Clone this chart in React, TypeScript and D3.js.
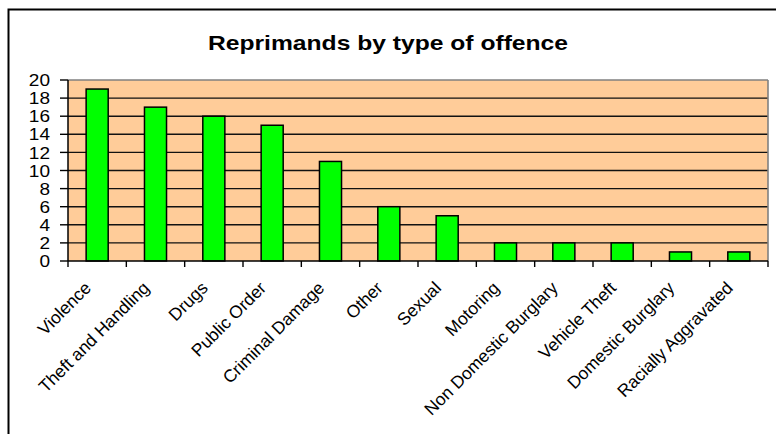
import React from "react";
import * as d3 from "d3";

const categories = [
  "Violence",
  "Theft and Handling",
  "Drugs",
  "Public Order",
  "Criminal Damage",
  "Other",
  "Sexual",
  "Motoring",
  "Non Domestic Burglary",
  "Vehicle Theft",
  "Domestic Burglary",
  "Racially Aggravated",
];
const values = [19, 17, 16, 15, 11, 6, 5, 2, 2, 2, 1, 1];
const yTicks = [0, 2, 4, 6, 8, 10, 12, 14, 16, 18, 20];
const title = "Reprimands by type of offence";

const W = 776;
const H = 434;
const plot = { left: 68, right: 768, top: 80, bottom: 261 };
const FONT = "'Liberation Sans', Arial, Helvetica, sans-serif";

export default function App() {
  const x = d3.scaleBand<string>().domain(categories).range([plot.left, plot.right]).padding(0);
  const y = d3.scaleLinear().domain([0, 20]).range([plot.bottom, plot.top]);
  const step = x.step();
  const barW = step * 0.378;
  const boundaries = d3.range(categories.length + 1).map((i) => plot.left + i * step);

  return (
    <svg
      width={W}
      height={H}
      style={{ position: "absolute", left: 0, top: 0, background: "#fff" }}
      fontFamily={FONT}
    >
      <rect x={8.5} y={9.5} width={800} height={460} fill="#fff" stroke="#000" strokeWidth={2} />
      <text
        x={388}
        y={50}
        textAnchor="middle"
        fontSize={21}
        fontWeight="bold"
        textLength={360}
        lengthAdjust="spacingAndGlyphs"
      >
        {title}
      </text>
      <rect
        x={plot.left}
        y={plot.top}
        width={plot.right - plot.left}
        height={plot.bottom - plot.top}
        fill="#FFCC99"
      />
      {yTicks.slice(1, -1).map((t) => (
        <line key={"g" + t} x1={plot.left} x2={plot.right} y1={y(t)} y2={y(t)} stroke="#111" strokeWidth={1.4} />
      ))}
      <line x1={plot.left} x2={plot.right} y1={plot.top} y2={plot.top} stroke="#808080" strokeWidth={1.6} />
      <line x1={plot.right} x2={plot.right} y1={plot.top} y2={plot.bottom} stroke="#808080" strokeWidth={1.6} />
      {categories.map((c, i) => {
        const cx = (x(c) as number) + step / 2;
        return (
          <rect
            key={c}
            x={cx - barW / 2}
            y={y(values[i])}
            width={barW}
            height={plot.bottom - y(values[i])}
            fill="#00FF00"
            stroke="#000"
            strokeWidth={1.5}
          />
        );
      })}
      <line x1={plot.left} x2={plot.left} y1={plot.top} y2={plot.bottom} stroke="#000" strokeWidth={1.5} />
      <line x1={plot.left} x2={plot.right} y1={plot.bottom} y2={plot.bottom} stroke="#000" strokeWidth={1.5} />
      {yTicks.map((t) => (
        <g key={"y" + t}>
          <line x1={plot.left - 8} x2={plot.left} y1={y(t)} y2={y(t)} stroke="#000" strokeWidth={1.4} />
          <text
            x={50}
            y={y(t)}
            dy="0.36em"
            textAnchor="end"
            fontSize={17}
            transform={`translate(50,0) scale(1.12,1) translate(-50,0)`}
          >
            {t}
          </text>
        </g>
      ))}
      {boundaries.map((bx, i) => (
        <line key={"t" + i} x1={bx} x2={bx} y1={plot.bottom} y2={plot.bottom + 6} stroke="#000" strokeWidth={1.4} />
      ))}
      {categories.map((c) => {
        const cx = (x(c) as number) + step / 2;
        return (
          <text
            key={"l" + c}
            transform={`translate(${cx - 5},289) rotate(-45)`}
            textAnchor="end"
            fontSize={17.5}
          >
            {c}
          </text>
        );
      })}
    </svg>
  );
}
